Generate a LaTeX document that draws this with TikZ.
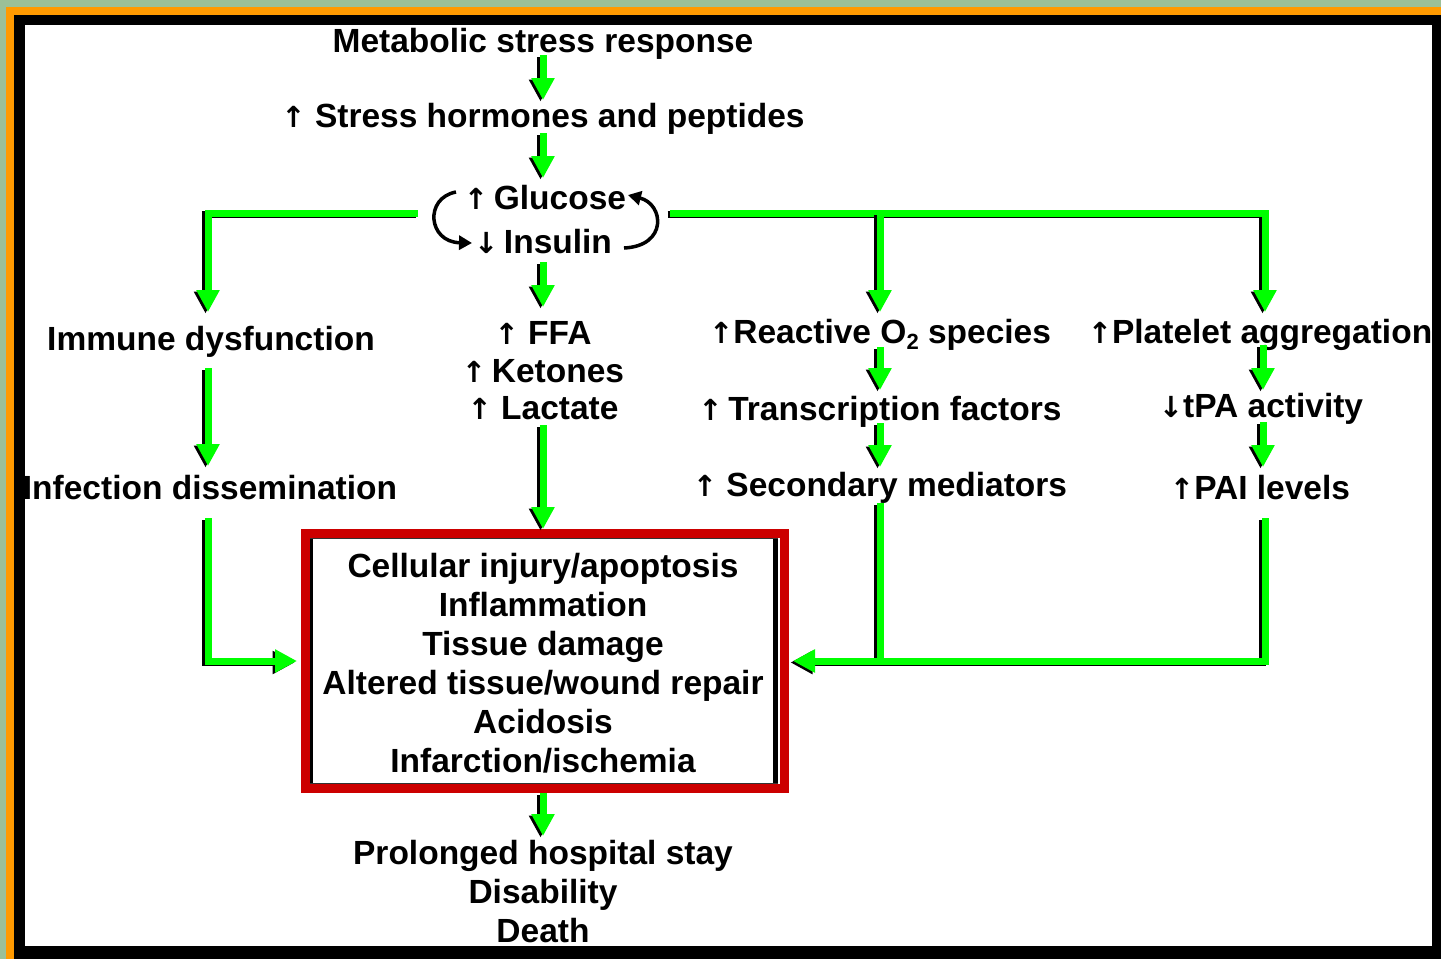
\documentclass[tikz,border=0pt]{standalone}
\usepackage{fontspec}
\setmainfont{Liberation Sans}
\newfontfamily\arrfont{DejaVu Sans}
\usetikzlibrary{arrows.meta,calc}
\definecolor{gbg}{HTML}{9BC098}
\definecolor{org}{HTML}{FF9A00}
\definecolor{grn}{HTML}{00FF00}
\definecolor{boxred}{HTML}{CC0000}
\newcommand\upa{{\arrfont\fontsize{29}{29}\selectfont ↑}}
\newcommand\dna{{\arrfont\fontsize{29}{29}\selectfont ↓}}
\newcommand\osub{\raisebox{-0.35ex}{\fontsize{22}{22}\selectfont 2}}
\tikzset{
  lbl/.style={font=\bfseries\fontsize{33.5}{39}\selectfont, inner sep=0pt, align=center},
  garrow/.style={draw=grn, line width=7pt, -{Triangle[width=22pt,length=22pt]}},
  gshadow/.style={draw=black, line width=7pt, -{Triangle[width=22pt,length=22pt]}, transform canvas={xshift=-2.5pt,yshift=-1.5pt}},
  gline/.style={draw=grn, line width=7pt},
  gshline/.style={draw=black, line width=7pt, transform canvas={xshift=-2.5pt,yshift=-1.5pt}},
  cyc/.style={draw=black, line width=3.5pt, -{Triangle[width=14pt,length=13pt]}},
}
\newcommand\gpath[1]{\draw[gshadow] #1; \draw[garrow] #1;}
\newcommand\gseg[1]{\draw[gshline] #1; \draw[gline] #1;}
\begin{document}
\begin{tikzpicture}[x=1pt,y=-1pt]
% frame
\fill[gbg] (0,0) rectangle (1441,959);
\fill[org] (6,7) rectangle (1441,959);
\fill[black] (14,15) rectangle (1441,959);
\fill[white] (25,25) rectangle (1432,946);
\useasboundingbox (0,0) rectangle (1441,959);

% nodes
\node[lbl] (msr) at (543,43.5) {Metabolic stress response};
\node[lbl] (shp) at (543,118.5) {\upa\ Stress hormones and peptides};
\node[lbl] (glu) at (545,197.5) {\upa\,Glucose};
\node[lbl] (ins) at (543,241.5) {\dna\,Insulin};
\node[lbl] (imm) at (211,341.5) {Immune dysfunction};
\node[lbl, font=\bfseries\fontsize{33.5}{37.5}\selectfont] (ffa) at (543,371) {\upa\ FFA\\\upa\,Ketones\\\upa\ Lactate};
\node[lbl] (ros) at (880,334.5) {\upa Reactive O\osub\ species};
\node[lbl] (plt) at (1260,334.5) {\upa Platelet aggregation};
\node[lbl] (inf) at (210,487.5) {Infection dissemination};
\node[lbl] (tf) at (880,411.5) {\upa\,Transcription factors};
\node[lbl] (sm) at (880,487.5) {\upa\ Secondary mediators};
\node[lbl] (tpa) at (1261,408.5) {\dna tPA activity};
\node[lbl] (pai) at (1260,487.5) {\upa PAI levels};
\node[draw=boxred, line width=9pt, fill=white, minimum width=479pt, minimum height=255pt, inner sep=0pt] (box) at (545,661) {};
\draw[black, line width=3pt] (311.5,538) -- (311.5,784);
\draw[black, line width=5pt] (775.5,538) -- (775.5,784);
\draw[black!80, line width=1.2pt] (310,538.6) -- (778,538.6);
\draw[black!80, line width=1.2pt] (310,783.4) -- (778,783.4);
\node[lbl] (eff) at (543,663) {Cellular injury/apoptosis\\Inflammation\\Tissue damage\\Altered tissue/wound repair\\Acidosis\\Infarction/ischemia};
\node[lbl] (out) at (543,891.5) {Prolonged hospital stay\\Disability\\Death};

% cycle arrows
\draw[cyc] (456,192) .. controls (424,198) and (428,242) .. (472,243);
\draw[cyc] (624,248) .. controls (668,246) and (664,204) .. (628,195);

% green connectors
\coordinate (gL) at (418,213);
\coordinate (gR) at (670,213);
\gpath{($(msr)+(0,11.5)$) -- ($(shp)+(0,-18.5)$)}
\gpath{($(shp)+(0,14.5)$) -- ($(shp|-glu)+(0,-19.5)$)}
\gpath{(gL) -| ($(imm)+(-3,-29.5)$)}
\gpath{(gR) -| ($(plt)+(5,-22.5)$)}
\gpath{(gR -| ros) -- ($(ros)+(0,-22.5)$)}
\gpath{($(ins)+(0,20.5)$) -- ($(ffa)+(0,-64)$)}
\gpath{($(imm)+(-3,26.5)$) -- ($(inf)+(-2,-21.5)$)}
\gpath{($(ffa)+(0,54)$) -- (ffa|-box.north)}
\gpath{($(ros)+(0,12.5)$) -- ($(tf)+(0,-21.5)$)}
\gpath{($(tf)+(0,11.5)$) -- ($(sm)+(0,-20.5)$)}
\gpath{($(plt)+(3,10.5)$) -- ($(tpa)+(2,-18.5)$)}
\gpath{($(tpa)+(2,13.5)$) -- ($(pai)+(3,-20.5)$)}
\gpath{($(inf)+(-2,30.5)$) |- ($(box.west)+(-4,0)$)}
\gseg{($(sm)+(0,15.5)$) -- (sm|-box.east)}
\gpath{($(pai)+(5,30.5)$) |- ($(box.east)+(4,0)$)}
\gpath{(out|-box.south) -- ($(out)+(0,-55.5)$)}
\end{tikzpicture}
\end{document}
